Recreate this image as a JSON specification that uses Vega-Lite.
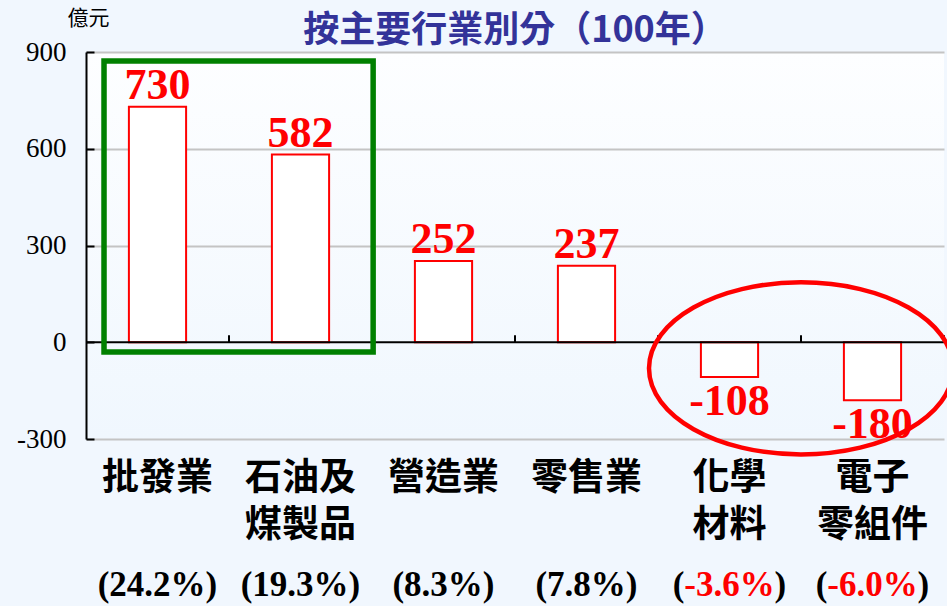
{
  "$schema": "https://vega.github.io/schema/vega-lite/v6.json",
  "width": 858,
  "height": 387,
  "autosize": "none",
  "padding": {"left": 86, "top": 52, "right": 3, "bottom": 167},
  "background": "#f1f7fe",
  "title": {
    "text": "按主要行業別分（100年）",
    "font": "Noto Sans CJK TC",
    "fontSize": 36,
    "fontWeight": "bold",
    "color": "#333399",
    "anchor": "middle",
    "baseline": "bottom",
    "offset": 6,
    "dy": 85
  },
  "config": {
    "view": {
      "stroke": null,
      "fill": {
        "gradient": "linear",
        "x1": 0, "y1": 0, "x2": 0, "y2": 1,
        "stops": [
          {"offset": 0, "color": "#fdfeff"},
          {"offset": 1, "color": "#f0f7fe"}
        ]
      }
    }
  },
  "data": {
    "values": [
      {"cat": "批發業", "value": 730, "label": "730", "pctLabel": "(24.2%)", "pct": "24.2%"},
      {"cat": "石油及 煤製品", "value": 582, "label": "582", "pctLabel": "(19.3%)", "pct": "19.3%"},
      {"cat": "營造業", "value": 252, "label": "252", "pctLabel": "(8.3%)", "pct": "8.3%"},
      {"cat": "零售業", "value": 237, "label": "237", "pctLabel": "(7.8%)", "pct": "7.8%"},
      {"cat": "化學 材料", "value": -108, "label": "-108", "pctLabel": "(-3.6%)", "pct": "-3.6%"},
      {"cat": "電子 零組件", "value": -180, "label": "-180", "pctLabel": "(-6.0%)", "pct": "-6.0%"}
    ]
  },
  "layer": [
    {
      "mark": {"type": "bar", "fill": "white", "stroke": "#ff0000", "strokeWidth": 2},
      "encoding": {
        "x": {
          "field": "cat", "type": "nominal", "sort": null,
          "scale": {
            "domain": ["批發業", "石油及 煤製品", "營造業", "零售業", "化學 材料", "電子 零組件"],
            "paddingInner": 0.6, "paddingOuter": 0.3
          },
          "axis": {
            "title": null,
            "domain": false,
            "ticks": false,
            "labelAngle": 0,
            "labelFont": "Noto Sans CJK TC",
            "labelFontSize": 37,
            "labelFontWeight": "bold",
            "labelColor": "black",
            "labelPadding": 21,
            "labelBaseline": "top",
            "labelLineHeight": 47,
            "labelOverlap": false,
            "labelExpr": "split(datum.label, ' ')"
          }
        },
        "y": {
          "field": "value", "type": "quantitative",
          "scale": {"domain": [-300, 900], "nice": false, "zero": false},
          "axis": {
            "values": [-300, 0, 300, 600, 900],
            "labelExpr": "datum.value + ''",
            "title": "億元",
            "titleAngle": 0,
            "titleX": 2,
            "titleY": -34,
            "titleAlign": "center",
            "titleBaseline": "middle",
            "titleFont": "Noto Sans CJK TC",
            "titleFontSize": 21,
            "titleFontWeight": "normal",
            "titleColor": "black",
            "labelFont": "Liberation Serif",
            "labelFontSize": 27,
            "labelColor": "black",
            "labelPadding": 28,
            "domainColor": "black",
            "domainWidth": 2,
            "tickColor": "black",
            "tickWidth": 2,
            "tickSize": -8,
            "grid": true,
            "gridColor": "#c4c4c4",
            "gridWidth": 2,
            "gridOpacity": {"condition": {"test": "datum.value === 0", "value": 0}, "value": 1}
          }
        }
      }
    },
    {
      "data": {"values": [{"z": 0}]},
      "mark": {"type": "rule", "color": "black", "strokeWidth": 2},
      "encoding": {"y": {"field": "z", "type": "quantitative"}}
    },
    {
      "mark": {"type": "rule", "color": "black", "strokeWidth": 2},
      "encoding": {
        "x": {"field": "cat", "type": "nominal", "sort": null, "bandPosition": 1.75},
        "y": {"datum": 0},
        "y2": {"datum": 22}
      }
    },
    {
      "transform": [{"filter": "datum.value > 0"}],
      "mark": {"type": "text", "font": "Liberation Serif", "fontSize": 44, "fontWeight": "bold", "color": "#ff0000", "baseline": "alphabetic", "dy": -8},
      "encoding": {
        "x": {"field": "cat", "type": "nominal", "sort": null},
        "y": {"field": "value", "type": "quantitative"},
        "text": {"field": "label"}
      }
    },
    {
      "transform": [{"filter": "datum.value < 0"}],
      "mark": {"type": "text", "font": "Liberation Serif", "fontSize": 44, "fontWeight": "bold", "color": "#ff0000", "baseline": "alphabetic", "dy": 38},
      "encoding": {
        "x": {"field": "cat", "type": "nominal", "sort": null},
        "y": {"field": "value", "type": "quantitative"},
        "text": {"field": "label"}
      }
    },
    {
      "transform": [{"filter": "datum.value > 0"}],
      "mark": {"type": "text", "font": "Liberation Serif", "fontSize": 35, "fontWeight": "bold", "color": "black", "baseline": "middle", "dy": 146},
      "encoding": {
        "x": {"field": "cat", "type": "nominal", "sort": null},
        "y": {"datum": -300},
        "text": {"field": "pctLabel"}
      }
    },
    {
      "transform": [{"filter": "datum.value < 0"}],
      "mark": {"type": "text", "font": "Liberation Serif", "fontSize": 35, "fontWeight": "bold", "color": "#ff0000", "baseline": "middle", "dy": 146},
      "encoding": {
        "x": {"field": "cat", "type": "nominal", "sort": null},
        "y": {"datum": -300},
        "text": {"field": "pct"}
      }
    },
    {
      "transform": [{"filter": "datum.value < 0"}],
      "mark": {"type": "text", "text": "(", "font": "Liberation Serif", "fontSize": 35, "fontWeight": "bold", "color": "black", "baseline": "middle", "align": "right", "dy": 146, "dx": -45},
      "encoding": {
        "x": {"field": "cat", "type": "nominal", "sort": null},
        "y": {"datum": -300}
      }
    },
    {
      "transform": [{"filter": "datum.value < 0"}],
      "mark": {"type": "text", "text": ")", "font": "Liberation Serif", "fontSize": 35, "fontWeight": "bold", "color": "black", "baseline": "middle", "align": "left", "dy": 146, "dx": 45},
      "encoding": {
        "x": {"field": "cat", "type": "nominal", "sort": null},
        "y": {"datum": -300}
      }
    },
    {
      "data": {"values": [{"from": "批發業", "to": "石油及 煤製品", "top": 872, "bottom": -30}]},
      "mark": {"type": "rect", "fill": null, "filled": false, "stroke": "#008000", "strokeWidth": 5.5},
      "encoding": {
        "x": {"field": "from", "type": "nominal", "bandPosition": -0.435},
        "x2": {"field": "to", "bandPosition": 1.77},
        "y": {"field": "top", "type": "quantitative"},
        "y2": {"field": "bottom"}
      }
    },
    {
      "data": {"values": [{"at": "電子 零組件", "center": -81}]},
      "mark": {"type": "point", "shape": "M -1 0 A 1 0.566 0 1 1 1 0 A 1 0.566 0 1 1 -1 0 Z", "size": 92416, "filled": false, "stroke": "#ff0000", "strokeWidth": 4.5, "opacity": 1},
      "encoding": {
        "x": {"field": "at", "type": "nominal", "bandPosition": -0.75},
        "y": {"field": "center", "type": "quantitative"}
      }
    }
  ]
}
